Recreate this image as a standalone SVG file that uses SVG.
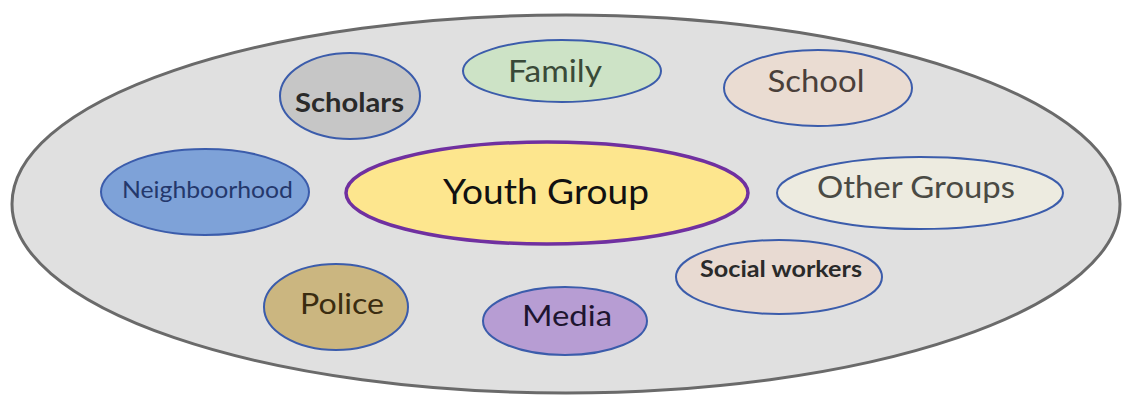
<svg xmlns="http://www.w3.org/2000/svg" width="1124" height="397" viewBox="0 0 1124 397">
<style>
.n{stroke:#3b5cab;stroke-width:2}
text{font-family:Lato,"Open Sans","Liberation Sans",sans-serif;text-anchor:middle}
.b{font-weight:bold}
</style>
<rect width="1124" height="397" fill="#ffffff"/>
<g id="context">
<ellipse cx="566" cy="204" rx="554" ry="189" fill="#e0e0e0" stroke="#6a6a6a" stroke-width="3"/>
</g>
<g id="scholars"><ellipse class="n" cx="350" cy="96" rx="70" ry="43" fill="#c6c6c6"/><text class="b" x="349.5" y="112" font-size="26" fill="#2a2a2a" textLength="109" lengthAdjust="spacingAndGlyphs">Scholars</text></g>
<g id="family"><ellipse class="n" cx="562" cy="71" rx="99" ry="31" fill="#cde3c6"/><text x="555" y="82" font-size="30" fill="#3a4a38" textLength="94" lengthAdjust="spacingAndGlyphs">Family</text></g>
<g id="school"><ellipse class="n" cx="818" cy="88" rx="94" ry="38" fill="#eadcd2"/><text x="816" y="92" font-size="30" fill="#4a3f3a" textLength="97" lengthAdjust="spacingAndGlyphs">School</text></g>
<g id="neighboorhood"><ellipse class="n" cx="205" cy="192" rx="104" ry="43" fill="#7ea2d8"/><text x="207.5" y="198" font-size="24" fill="#24386c" textLength="171" lengthAdjust="spacingAndGlyphs">Neighboorhood</text></g>
<g id="youth-group"><ellipse cx="547" cy="193" rx="201" ry="51" fill="#fde68e" stroke="#7030a0" stroke-width="3.5"/><text x="546" y="204" font-size="35" fill="#111111" textLength="206" lengthAdjust="spacingAndGlyphs">Youth Group</text></g>
<g id="other-groups"><ellipse class="n" cx="920" cy="193" rx="143" ry="36" fill="#edebe0"/><text x="916" y="198" font-size="30" fill="#4a4a44" textLength="198" lengthAdjust="spacingAndGlyphs">Other Groups</text></g>
<g id="social-workers"><ellipse class="n" cx="779" cy="277" rx="103" ry="37" fill="#e8dad2"/><text class="b" x="781" y="277" font-size="23" fill="#2a2a2a" textLength="162" lengthAdjust="spacingAndGlyphs">Social workers</text></g>
<g id="police"><ellipse class="n" cx="336" cy="307" rx="72" ry="43" fill="#cbb680"/><text x="342" y="314" font-size="29" fill="#3a2c10" textLength="84" lengthAdjust="spacingAndGlyphs">Police</text></g>
<g id="media"><ellipse class="n" cx="565" cy="321" rx="82" ry="34" fill="#b79dd3"/><text x="567" y="326" font-size="29" fill="#1e1530" textLength="90" lengthAdjust="spacingAndGlyphs">Media</text></g>
<g id="connectors"></g>
</svg>
